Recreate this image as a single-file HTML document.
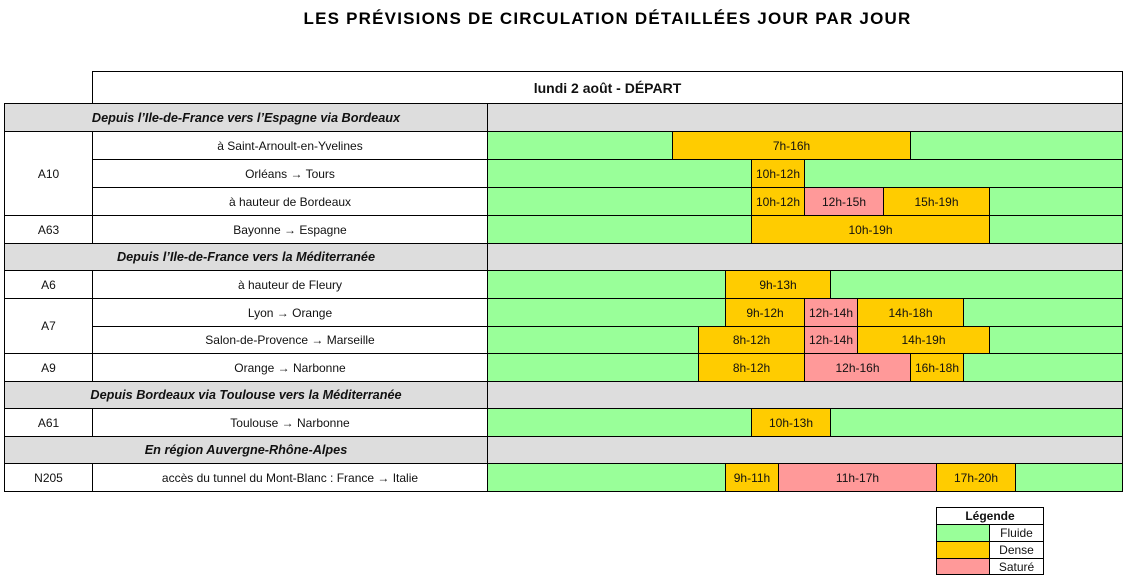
<!DOCTYPE html>
<html><head><meta charset="utf-8"><style>
body{margin:0;width:1130px;height:583px;background:#fff;font-family:"Liberation Sans",sans-serif;position:relative;overflow:hidden}
div{position:absolute;box-sizing:border-box}
.c{display:flex;align-items:center;justify-content:center;font-size:12px;color:#111;border:1px solid #000;white-space:nowrap}
.g{background:#dddddd}.sec{font-style:italic;font-weight:bold;font-size:12.7px}
.G{background:#99ff99}.O{background:#ffcc00}.P{background:#ff9999}
</style></head><body>
<div style="left:0;width:1130px;top:9px;text-align:center;font-weight:bold;font-size:17px;letter-spacing:1.2px;padding-left:85px">LES PRÉVISIONS DE CIRCULATION DÉTAILLÉES JOUR PAR JOUR</div>
<div class="c" style="left:92px;top:71px;width:1031px;height:33px;font-weight:bold;font-size:14px">lundi 2 août&nbsp;- DÉPART</div>
<div id="t"></div>
<script>
var rows=[
['s','Depuis l’Ile-de-France vers l’Espagne via Bordeaux',103,131],
['r','à Saint-Arnoult-en-Yvelines',131,159,[[7,16,'O','7h-16h']]],
['r','Orléans → Tours',159,187,[[10,12,'O','10h-12h']]],
['r','à hauteur de Bordeaux',187,215,[[10,12,'O','10h-12h'],[12,15,'P','12h-15h'],[15,19,'O','15h-19h']]],
['r','Bayonne → Espagne',215,243,[[10,19,'O','10h-19h']]],
['s','Depuis l’Ile-de-France vers la Méditerranée',243,270],
['r','à hauteur de Fleury',270,298,[[9,13,'O','9h-13h']]],
['r','Lyon → Orange',298,326,[[9,12,'O','9h-12h'],[12,14,'P','12h-14h'],[14,18,'O','14h-18h']]],
['r','Salon-de-Provence → Marseille',326,353,[[8,12,'O','8h-12h'],[12,14,'P','12h-14h'],[14,19,'O','14h-19h']]],
['r','Orange → Narbonne',353,381,[[8,12,'O','8h-12h'],[12,16,'P','12h-16h'],[16,18,'O','16h-18h']]],
['s','Depuis Bordeaux via Toulouse vers la Méditerranée',381,408],
['r','Toulouse → Narbonne',408,436,[[10,13,'O','10h-13h']]],
['s','En région Auvergne-Rhône-Alpes',436,463],
['r','accès du tunnel du Mont-Blanc : France → Italie',463,491,[[9,11,'O','9h-11h'],[11,17,'P','11h-17h'],[17,20,'O','17h-20h']]]
];
var h='';function X(v){return Math.round(487+26.42*v)}
rows.forEach(function(r){var y=r[2],hh=r[3]-r[2]+1;
if(r[0]=='s'){h+='<div class="c g sec" style="left:4px;top:'+y+'px;width:484px;height:'+hh+'px">'+r[1]+'</div><div class="c g" style="left:487px;top:'+y+'px;width:636px;height:'+hh+'px"></div>';}
else{h+='<div class="c" style="left:92px;top:'+y+'px;width:396px;height:'+hh+'px">'+r[1]+'</div><div class="c G" style="left:487px;top:'+y+'px;width:636px;height:'+hh+'px"></div>';
r[4].forEach(function(s){h+='<div class="c '+s[2]+'" style="left:'+X(s[0])+'px;top:'+y+'px;width:'+(X(s[1])-X(s[0])+1)+'px;height:'+hh+'px">'+s[3]+'</div>'});}
});
[['A10',131,215],['A63',215,243],['A6',270,298],['A7',298,353],['A9',353,381],['A61',408,436],['N205',463,491]].forEach(function(a){h+='<div class="c" style="left:4px;top:'+a[1]+'px;width:89px;height:'+(a[2]-a[1]+1)+'px">'+a[0]+'</div>'});
document.getElementById('t').outerHTML=h;
</script>
<div class="c" style="left:936px;top:507px;width:108px;height:18px;font-weight:bold">Légende</div>
<div class="c G" style="left:936px;top:524px;width:54px;height:18px"></div><div class="c" style="left:989px;top:524px;width:55px;height:18px">Fluide</div>
<div class="c O" style="left:936px;top:541px;width:54px;height:18px"></div><div class="c" style="left:989px;top:541px;width:55px;height:18px">Dense</div>
<div class="c P" style="left:936px;top:558px;width:54px;height:17px"></div><div class="c" style="left:989px;top:558px;width:55px;height:17px">Saturé</div>
</body></html>
